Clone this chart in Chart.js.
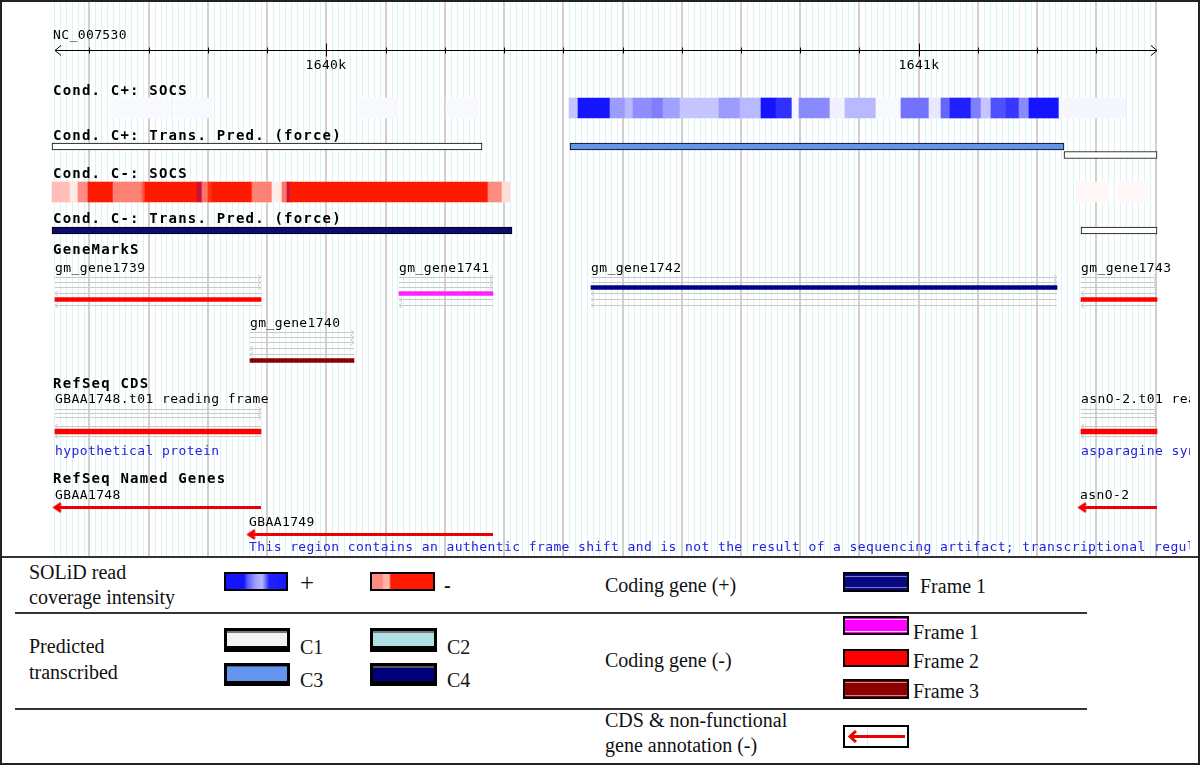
<!DOCTYPE html>
<html>
<head>
<meta charset="utf-8">
<script src="https://cdn.jsdelivr.net/npm/chart.js@4.4.1/dist/chart.umd.min.js"></script>
<style>
html, body { margin: 0; padding: 0; background: #fff; }
#page { position: relative; width: 1200px; height: 765px; overflow: hidden; font-family: "Liberation Serif", "Times New Roman", serif; }
#browser { position: absolute; left: 0; top: 0; }
#frame { position: absolute; left: 0; top: 0; width: 1200px; height: 765px; border: 2px solid #222; box-sizing: border-box; pointer-events: none; }
.sep { position: absolute; background: #333; }
.lg { position: absolute; font-size: 20px; line-height: 20px; color: #111; white-space: nowrap; }
.sw { position: absolute; box-sizing: border-box; border: 2px solid #000; }
</style>
</head>
<body>
<div id="page">
  <canvas id="browser" width="1200" height="556"></canvas>

  <!-- legend -->
  <div class="lg" style="left:29px;top:562px">SOLiD read</div>
  <div class="lg" style="left:29px;top:587px">coverage intensity</div>
  <div class="sw" style="left:224px;top:572px;width:64px;height:19px;background:linear-gradient(to right,#1414ff 0%,#1414ff 30%,#5a5aff 36%,#9a9aff 48%,#b8b8ff 60%,#7070ff 66%,#2222ff 72%,#1818ff 100%)"></div>
  <div class="lg" style="left:300px;top:573px;font-size:25px">+</div>
  <div class="sw" style="left:370px;top:572px;width:65px;height:19px;background:linear-gradient(to right,#ff8a80 0%,#ff8a80 17%,#ffb4a8 19%,#ffb4a8 28%,#ff1a00 31%,#ff1a00 100%)"></div>
  <div class="lg" style="left:444px;top:575px;font-weight:bold">-</div>

  <div class="lg" style="left:29px;top:636px">Predicted</div>
  <div class="lg" style="left:29px;top:662px">transcribed</div>
  <div class="sw" style="left:224px;top:628px;width:66px;height:24px;border-width:3px 3px 6px 3px;background:#f2f2f2;box-shadow:inset 0 2px 0 #777"></div>
  <div class="lg" style="left:300px;top:637px">C1</div>
  <div class="sw" style="left:370px;top:628px;width:67px;height:24px;border-width:3px 3px 6px 3px;background:#b0e0e6;box-shadow:inset 0 2px 0 #777"></div>
  <div class="lg" style="left:447px;top:637px">C2</div>
  <div class="sw" style="left:224px;top:663px;width:66px;height:23px;border-width:3px 3px 5px 3px;background:#6495ed;box-shadow:inset 0 1px 0 #3d5f9a"></div>
  <div class="lg" style="left:300px;top:670px">C3</div>
  <div class="sw" style="left:370px;top:663px;width:67px;height:23px;border-width:3px 3px 5px 3px;background:#00007a;box-shadow:inset 0 2px 0 #555"></div>
  <div class="lg" style="left:447px;top:670px">C4</div>

  <div class="lg" style="left:605px;top:575px">Coding gene (+)</div>
  <div class="sw" style="left:843px;top:572px;width:66px;height:20px;background:#0a0a80;box-shadow:inset 0 2px 0 #0a0a80,inset 0 3px 0 #7a7ad8,inset 0 -2px 0 #0a0a80,inset 0 -3px 0 #7a7ad8"></div>
  <div class="lg" style="left:920px;top:576px">Frame 1</div>

  <div class="lg" style="left:605px;top:650px">Coding gene (-)</div>
  <div class="sw" style="left:843px;top:616px;width:66px;height:19px;background:#ff00ff;box-shadow:inset 0 1px 0 #ff00ff,inset 0 2px 0 #ffd0ff,inset 0 -1px 0 #ff00ff,inset 0 -2px 0 #ffd0ff"></div>
  <div class="lg" style="left:913px;top:622px">Frame 1</div>
  <div class="sw" style="left:843px;top:649px;width:66px;height:18px;background:#ff0000"></div>
  <div class="lg" style="left:913px;top:651px">Frame 2</div>
  <div class="sw" style="left:843px;top:679px;width:66px;height:20px;background:#8b0000;box-shadow:inset 0 1px 0 #8b0000,inset 0 2px 0 #e08080,inset 0 -1px 0 #8b0000,inset 0 -2px 0 #e08080"></div>
  <div class="lg" style="left:913px;top:681px">Frame 3</div>

  <div class="lg" style="left:605px;top:710px">CDS &amp; non-functional</div>
  <div class="lg" style="left:605px;top:735px">gene annotation (-)</div>
  <div class="sw" style="left:843px;top:725px;width:66px;height:23px;background:#fff">
    <svg width="62" height="19" style="position:absolute;left:0;top:0">
      <line x1="22.5" y1="0" x2="22.5" y2="19" stroke="#d8eeee" stroke-width="1"/>
      <line x1="5" y1="9.5" x2="60" y2="9.5" stroke="#ee0000" stroke-width="3"/>
      <polyline points="11,4 5,9.5 11,15" fill="none" stroke="#ee0000" stroke-width="3"/>
    </svg>
  </div>

  <div class="sep" style="left:0;top:556px;width:1200px;height:2px"></div>
  <div class="sep" style="left:15px;top:612px;width:1072px;height:2px"></div>
  <div class="sep" style="left:15px;top:708px;width:1072px;height:2px"></div>
  <div id="frame"></div>
</div>

<script>
// ---- view window (bp) ----
const view_start = 1639449;
const view_end = 1641475;
const grid_start = 1639540;
const grid_end = 1641400;

// ---- ruler ----
const sequence_name = "NC_007530";
const ruler_start = 1639542;
const ruler_end = 1641402;
const ruler_step = 100;
const ruler_label_values = [1640000, 1641000];
const ruler_labels = ["1640k", "1641k"];

// ---- Cond. C+: SOCS coverage (relative intensity) ----
const socs_plus_start = [1639636, 1639745, 1640057, 1640202, 1640410, 1640425, 1640479, 1640504, 1640518, 1640550, 1640568, 1640597, 1640663, 1640698, 1640734, 1640759, 1640786, 1640798, 1640850, 1640875, 1640928, 1640970, 1641017, 1641037, 1641053, 1641088, 1641105, 1641122, 1641147, 1641169, 1641186, 1641237];
const socs_plus_end = [1639739, 1639807, 1640121, 1640256, 1640425, 1640479, 1640504, 1640518, 1640550, 1640568, 1640597, 1640663, 1640698, 1640734, 1640759, 1640786, 1640798, 1640850, 1640875, 1640928, 1640970, 1641017, 1641037, 1641053, 1641088, 1641105, 1641122, 1641147, 1641169, 1641186, 1641237, 1641350];
const socs_plus_value = [0.03, 0.03, 0.03, 0.03, 0.25, 1.0, 0.42, 0.3, 0.48, 0.55, 0.4, 0.25, 0.42, 0.3, 1.0, 0.88, 0.04, 0.5, 0.06, 0.3, 0.03, 0.6, 0.1, 0.65, 0.95, 0.55, 0.25, 0.75, 0.85, 0.5, 1.0, 0.04];

// ---- Cond. C-: SOCS coverage ----
const socs_minus_start = [1639537, 1639567, 1639581, 1639598, 1639640, 1639689, 1639694, 1639782, 1639790, 1639800, 1639807, 1639874, 1639908, 1639925, 1639934, 1639939, 1640273, 1640296, 1641265, 1641336];
const socs_minus_end = [1639567, 1639581, 1639598, 1639640, 1639689, 1639694, 1639782, 1639790, 1639800, 1639807, 1639874, 1639908, 1639925, 1639934, 1639939, 1640273, 1640296, 1640310, 1641321, 1641385];
const socs_minus_value = [0.28, 0.1, 0.5, 1.0, 0.55, 0.75, 1.0, 1.25, 0.6, 0.9, 1.0, 0.55, 0.08, 0.6, 1.2, 1.0, 0.5, 0.15, 0.03, 0.03];

// ---- transcription predictions (force) ----
const tp_plus_start = [1639537, 1640411, 1641246];
const tp_plus_end = [1640262, 1641245, 1641402];
const tp_plus_class = ["C1", "C3", "C1"];
const tp_plus_row = [0, 0, 1];
const tp_minus_start = [1639537, 1641274];
const tp_minus_end = [1640313, 1641402];
const tp_minus_class = ["C4", "C1"];

// ---- GeneMarkS ----
const gm_names = ["gm_gene1739", "gm_gene1740", "gm_gene1741", "gm_gene1742", "gm_gene1743"];
const gm_start = [1639542, 1639871, 1640123, 1640447, 1641274];
const gm_end = [1639890, 1640047, 1640282, 1641234, 1641402];
const gm_lane = [5, 6, 4, 3, 5];   // 1..3 forward frames, 4..6 reverse frames
const gm_row = [0, 1, 0, 0, 0];

// ---- RefSeq CDS ----
const cds_names = ["GBAA1748.t01 reading frame", "asnO-2.t01 reading frame"];
const cds_notes = ["hypothetical protein", "asparagine synthetase"];
const cds_start = [1639542, 1641274];
const cds_end = [1639890, 1641402];
const cds_lane = [5, 5];

// ---- RefSeq Named Genes (all minus strand) ----
const named_names = ["GBAA1748", "GBAA1749", "asnO-2"];
const named_notes = ["", "This region contains an authentic frame shift and is not the result of a sequencing artifact; transcriptional regulator", ""];
const named_start = [1639542, 1639869, 1641273];
const named_end = [1639890, 1640282, 1641402];
const named_row = [0, 1, 0];

// ---- layout (pixel rows) ----
const Y_SOCS_PLUS = 108, Y_SOCS_MINUS = 192;
const Y_TP_PLUS = [146.5, 155];
const Y_TP_MINUS = 230.5;
const GM_BASE = [272, 327];
const GM_LANES = [5.5, 10.5, 15.5, 21.5, 27.5, 33.5];
const CDS_BASE = 403;
const CDS_LANES = [6.5, 10.5, 14.5, 23.5, 28.5, 33.5];
const NAMED_BASE = [499, 526];

const track_titles = ["Cond. C+: SOCS", "Cond. C+: Trans. Pred. (force)", "Cond. C-: SOCS", "Cond. C-: Trans. Pred. (force)", "GeneMarkS", "RefSeq CDS", "RefSeq Named Genes"];
const title_baselines = [95, 140, 178, 223, 254, 388, 483];

const class_colors = { C1: "#ffffff", C2: "#b0e0e6", C3: "#6495ed", C4: "#0c0c70" };
const lane_colors = ["#000088", "#000088", "#000088", "#ff22ff", "#ff0000", "#8b0000"];
const lane_gray = "#c9c9c9";
const arrow_red = "#ee0000";
const note_blue = "#2222dd";

function blue_shade(v) {
    const c = Math.round(255 - 235 * v);
    return "rgb(" + c + "," + c + ",255)";
}

function red_shade(v) {
    if (v > 1) return "rgb(200,20,60)";
    return "rgb(255," + Math.round(255 - 230 * v) + "," + Math.round(255 - 255 * v) + ")";
}

// small images used as point styles (tip of the arrow sits at the image centre)
function chevron(w, h, dir, color, lw) {
    const c = document.createElement("canvas");
    c.width = w; c.height = h;
    const g = c.getContext("2d");
    g.strokeStyle = color; g.lineWidth = lw;
    const cx = w / 2, cy = h / 2, d = w / 2 - lw;
    g.beginPath();
    g.moveTo(cx + dir * d, lw / 2 + 0.5);
    g.lineTo(cx, cy);
    g.lineTo(cx + dir * d, h - lw / 2 - 0.5);
    g.stroke();
    return c;
}
const head_left = chevron(18, 12, 1, arrow_red, 3);
const lane_left = chevron(8, 7, 1, lane_gray, 1);
const lane_right = chevron(8, 7, -1, lane_gray, 1);

const datasets = [];

function bar_set(starts, ends, ys, colors, thick, border, order) {
    datasets.push({
        type: "bar",
        data: starts.map((s, i) => ({ x: [s, ends[i]], y: ys[i] })),
        backgroundColor: colors,
        borderColor: "#000",
        borderWidth: border,
        borderSkipped: false,
        barThickness: thick,
        grouped: false,
        order: order
    });
}

function lanes_for(start, end, base, offsets) {
    offsets.forEach((off, k) => {
        const forward = k < 3;
        datasets.push({
            type: "line",
            indexAxis: "x",
            data: [{ x: start, y: base + off }, { x: end, y: base + off }],
            borderColor: lane_gray,
            borderWidth: 1,
            pointRadius: forward ? [0, 1] : [1, 0],
            pointHoverRadius: 0,
            pointStyle: forward ? lane_right : lane_left,
            pointHitRadius: 0,
            order: 30
        });
    });
}

// coverage heat maps
bar_set(socs_plus_start, socs_plus_end, socs_plus_start.map(() => Y_SOCS_PLUS), socs_plus_value.map(blue_shade), 20, 0, 10);
bar_set(socs_minus_start, socs_minus_end, socs_minus_start.map(() => Y_SOCS_MINUS), socs_minus_value.map(red_shade), 20, 0, 10);

// transcript predictions
bar_set(tp_plus_start, tp_plus_end, tp_plus_row.map(r => Y_TP_PLUS[r]), tp_plus_class.map(c => class_colors[c]), 7, 1, 5);
bar_set(tp_minus_start, tp_minus_end, tp_minus_start.map(() => Y_TP_MINUS), tp_minus_class.map(c => class_colors[c]), 7, 1, 5);

// GeneMarkS frames + coding bars
gm_start.forEach((s, i) => lanes_for(s, gm_end[i], GM_BASE[gm_row[i]], GM_LANES));
bar_set(gm_start, gm_end, gm_start.map((s, i) => GM_BASE[gm_row[i]] + GM_LANES[gm_lane[i] - 1]), gm_lane.map(l => lane_colors[l - 1]), 4, 0, 2);

// RefSeq CDS
cds_start.forEach((s, i) => lanes_for(s, cds_end[i], CDS_BASE, CDS_LANES));
bar_set(cds_start, cds_end, cds_lane.map(l => CDS_BASE + CDS_LANES[l - 1]), cds_lane.map(l => lane_colors[l - 1]), 5, 0, 2);

// RefSeq named genes: arrows pointing left
named_start.forEach((s, i) => {
    const y = NAMED_BASE[named_row[i]] + 8.5;
    datasets.push({
        type: "line",
        indexAxis: "x",
        data: [{ x: s, y: y }, { x: named_end[i], y: y }],
        borderColor: arrow_red,
        borderWidth: 3,
        borderCapStyle: "butt",
        pointRadius: [1, 0],
        pointHoverRadius: 0,
        pointStyle: head_left,
        pointHitRadius: 0,
        order: 1
    });
});

function mono(ctx, bold) {
    ctx.font = bold ? 'bold 14px "DejaVu Sans Mono"' : '13px "DejaVu Sans Mono"';
    ctx.letterSpacing = bold ? "1.2px" : "0.4px";
}

const track_text = {
    id: "track_text",
    afterDatasetsDraw(chart) {
        const ctx = chart.ctx;
        const xs = chart.scales.x;
        const px = v => xs.getPixelForValue(v);
        ctx.save();
        ctx.beginPath();
        ctx.rect(0, 0, 1190, 556);
        ctx.clip();
        ctx.fillStyle = "#000";
        ctx.textBaseline = "alphabetic";

        // ruler
        const y0 = 50.5;
        const l = px(ruler_start), r = px(ruler_end);
        ctx.strokeStyle = "#000";
        ctx.lineWidth = 1;
        ctx.beginPath();
        ctx.moveTo(l, y0); ctx.lineTo(r, y0);
        ctx.moveTo(l + 6, y0 - 5); ctx.lineTo(l, y0); ctx.lineTo(l + 6, y0 + 5);
        ctx.moveTo(r - 6, y0 - 5); ctx.lineTo(r, y0); ctx.lineTo(r - 6, y0 + 5);
        for (let v = Math.ceil(ruler_start / ruler_step) * ruler_step; v < ruler_end - 10; v += ruler_step) {
            const x = Math.round(px(v)) + 0.5;
            const major = ruler_label_values.includes(v);
            ctx.moveTo(x, major ? y0 - 7 : y0 - 3);
            ctx.lineTo(x, major ? y0 + 6 : y0 + 3);
        }
        ctx.stroke();

        mono(ctx, false);
        ctx.textAlign = "left";
        ctx.fillText(sequence_name, 53, 39);
        ctx.textAlign = "center";
        ruler_labels.forEach((t, i) => ctx.fillText(t, px(ruler_label_values[i]), 69));
        ctx.textAlign = "left";

        // track titles
        mono(ctx, true);
        track_titles.forEach((t, i) => ctx.fillText(t, 53, title_baselines[i]));

        // feature labels
        mono(ctx, false);
        gm_names.forEach((t, i) => ctx.fillText(t, px(gm_start[i]), GM_BASE[gm_row[i]]));
        cds_names.forEach((t, i) => ctx.fillText(t, px(cds_start[i]), CDS_BASE));
        named_names.forEach((t, i) => ctx.fillText(t, px(named_start[i]), NAMED_BASE[named_row[i]]));
        ctx.fillStyle = note_blue;
        cds_notes.forEach((t, i) => ctx.fillText(t, px(cds_start[i]), CDS_BASE + 52));
        named_notes.forEach((t, i) => { if (t) ctx.fillText(t, px(named_start[i]), NAMED_BASE[named_row[i]] + 25); });
        ctx.restore();
    }
};

new Chart(document.getElementById("browser").getContext("2d"), {
    type: "bar",
    data: { datasets: datasets },
    options: {
        responsive: false,
        animation: false,
        events: [],
        indexAxis: "y",
        layout: { padding: 0, autoPadding: false },
        plugins: { legend: { display: false }, tooltip: { enabled: false } },
        scales: {
            x: {
                type: "linear",
                min: view_start,
                max: view_end,
                offset: false,
                alignToPixels: true,
                border: { display: false },
                ticks: { display: false, stepSize: 10, autoSkip: false },
                grid: {
                    offset: false,
                    drawTicks: false,
                    color: ctx => {
                        const v = ctx.tick ? Math.round(ctx.tick.value) : NaN;
                        if (!(v >= grid_start && v <= grid_end) || v % 10 !== 0) return "rgba(0,0,0,0)";
                        return v % 100 === 0 ? "#d0d0d0" : "#daf4f4";
                    },
                    lineWidth: ctx => (ctx.tick && Math.round(ctx.tick.value) % 100 === 0) ? 2 : 1
                }
            },
            y: { type: "linear", min: 0, max: 556, reverse: true, offset: false, grid: { offset: false }, display: false }
        }
    },
    plugins: [track_text]
});
</script>
</body>
</html>
